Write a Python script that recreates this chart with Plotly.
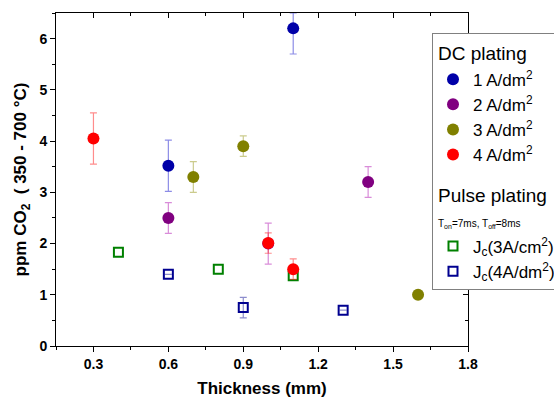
import plotly.graph_objects as go

# DC plating series
dc1_x = [0.6, 1.1]
dc1_y = [3.52, 6.2]
dc1_e = [0.5, 0.5]

dc2_x = [0.6, 1.0, 1.4]
dc2_y = [2.5, 2.0, 3.2]
dc2_e = [0.3, 0.4, 0.3]

dc3_x = [0.7, 0.9, 1.6]
dc3_y = [3.3, 3.9, 1.0]
dc3_e = [0.3, 0.2, 0.0]

dc4_x = [0.3, 1.0, 1.1]
dc4_y = [4.05, 2.01, 1.5]
dc4_e = [0.5, 0.2, 0.2]

# Pulse plating series
p3_x = [0.4, 0.8, 1.1]
p3_y = [1.83, 1.5, 1.37]

p4_x = [0.6, 0.9, 1.3]
p4_y = [1.4, 0.75, 0.7]
p4_e = [0.0, 0.2, 0.0]

x_ticks = [0.3, 0.6, 0.9, 1.2, 1.5, 1.8]
y_ticks = [0, 1, 2, 3, 4, 5, 6]
y_max = 6.5

FONT = "Liberation Sans, Arial, sans-serif"

fig = go.Figure()

# pulse first (drawn beneath)
fig.add_trace(go.Scatter(
    x=p3_x, y=p3_y, mode="markers", name="J<sub>c</sub>(3A/cm<sup>2</sup>)",
    marker=dict(symbol="square-open", size=9, color="#008000", line=dict(width=2, color="#008000")),
    legendgroup="pulse", legendrank=5, cliponaxis=True,
    legendgrouptitle=dict(text="Pulse plating<br><span style='font-size:10px'>T<sub>on</sub>=7ms, T<sub>off</sub>=8ms</span>",
                          font=dict(size=19, family=FONT, color="black")),
))
fig.add_trace(go.Scatter(
    x=p4_x, y=p4_y, mode="markers", name="J<sub>c</sub>(4A/dm<sup>2</sup>)",
    marker=dict(symbol="square-open", size=9, color="#000090", line=dict(width=2, color="#000090")),
    error_y=dict(type="data", array=p4_e, color="rgba(0,0,144,0.45)", thickness=1.2, width=3.5),
    legendgroup="pulse", legendrank=6, cliponaxis=True,
))

dc = [
    (dc1_x, dc1_y, dc1_e, "#0000a8", "rgba(0,0,200,0.45)", "1 A/dm<sup>2</sup>", 1),
    (dc2_x, dc2_y, dc2_e, "#800080", "rgba(170,0,170,0.45)", "2 A/dm<sup>2</sup>", 2),
    (dc3_x, dc3_y, dc3_e, "#808000", "rgba(140,140,0,0.45)", "3 A/dm<sup>2</sup>", 3),
    (dc4_x, dc4_y, dc4_e, "#ff0000", "rgba(255,0,0,0.45)", "4 A/dm<sup>2</sup>", 4),
]
for i, (xs, ys, es, col, ecol, nm, rk) in enumerate(dc):
    kw = {}
    if i == 0:
        kw["legendgrouptitle"] = dict(text="DC plating", font=dict(size=19, family=FONT, color="black"))
    # upper error limited to the visible axis range (clipped like the reference)
    up = [min(e, y_max - y) for e, y in zip(es, ys)]
    fig.add_trace(go.Scatter(
        x=xs, y=ys, mode="markers", name=nm,
        marker=dict(symbol="circle", size=12, color=col),
        error_y=dict(type="data", symmetric=False, array=up, arrayminus=es,
                     color=ecol, thickness=1.2, width=3.5),
        legendgroup="dc", legendrank=rk, cliponaxis=True, **kw,
    ))

# dummy trace for mirror axes
fig.add_trace(go.Scatter(x=[None], y=[None], xaxis="x2", yaxis="y2", showlegend=False, hoverinfo="skip"))

W = 640
tickfont = dict(family=FONT, size=14, color="black", weight="bold")
fig.update_layout(
    width=W, height=398,
    margin=dict(l=56, r=W - 468, t=13, b=52, autoexpand=False),
    plot_bgcolor="white", paper_bgcolor="white",
    font=dict(family=FONT, color="black"),
    xaxis=dict(range=[0.15, 1.8], tickvals=x_ticks, ticktext=[f"{v:.1f}" for v in x_ticks],
               ticks="outside", ticklen=5, tickwidth=1, tickcolor="black",
               minor=dict(dtick=0.15, tick0=0.15, ticks="outside", ticklen=3, tickcolor="black"),
               showline=True, linecolor="black", linewidth=1, showgrid=False, zeroline=False,
               tickfont=tickfont,
               title=dict(text="Thickness (mm)", font=dict(family=FONT, size=17, color="black", weight="bold"), standoff=12)),
    yaxis=dict(range=[0, y_max], tickvals=y_ticks,
               ticks="outside", ticklen=5, tickwidth=1, tickcolor="black",
               minor=dict(dtick=0.5, tick0=0, ticks="outside", ticklen=3, tickcolor="black"),
               showline=True, linecolor="black", linewidth=1, showgrid=False, zeroline=False,
               tickfont=tickfont,
               title=dict(text="ppm CO<sub>2</sub>  ( 350 - 700 °C)", font=dict(family=FONT, size=17, color="black", weight="bold"), standoff=8)),
    xaxis2=dict(range=[0.15, 1.8], overlaying="x", side="top", anchor="y", tickvals=x_ticks,
                ticks="inside", ticklen=5, tickcolor="black", showticklabels=False,
                minor=dict(dtick=0.15, tick0=0.15, ticks="inside", ticklen=3, tickcolor="black"),
                showline=True, linecolor="black", linewidth=1, showgrid=False, zeroline=False),
    yaxis2=dict(range=[0, y_max], overlaying="y", side="right", anchor="x", tickvals=y_ticks,
                ticks="inside", ticklen=5, tickcolor="black", showticklabels=False,
                minor=dict(dtick=0.5, tick0=0, ticks="inside", ticklen=3, tickcolor="black"),
                showline=True, linecolor="black", linewidth=1, showgrid=False, zeroline=False),
    legend=dict(x=(432 - 56) / (468 - 56), y=(346 - 33) / 333.0, xanchor="left", yanchor="top",
                bgcolor="white", bordercolor="#808080", borderwidth=1,
                font=dict(family=FONT, size=17, color="black"),
                traceorder="grouped", tracegroupgap=14, itemwidth=30),
    showlegend=True,
)

fig.write_html("out.html", config={"displayModeBar": False, "responsive": False},
               post_script="document.body.style.margin='0px';document.body.style.overflow='hidden';")
